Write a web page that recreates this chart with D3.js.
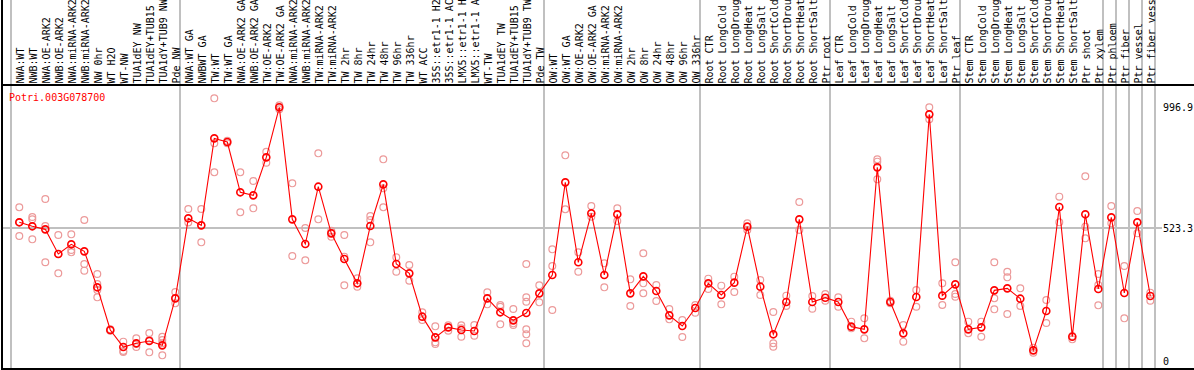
<!DOCTYPE html>
<html>
<head>
<meta charset="utf-8">
<script src="https://cdn.jsdelivr.net/npm/d3@7"></script>
<style>
  html, body { margin: 0; padding: 0; background: #fff; }
  svg { display: block; font-family: "DejaVu Sans Mono", monospace; }
</style>
</head>
<body>
<div id="chart"></div>
<script>
const geneId = 'Potri.003G078700';

// labels as far as they are shown in the header
const categories = [
  'NWA:WT', 'NWB:WT', 'NWA:OE-ARK2', 'NWB:OE-ARK2', 'NWA:miRNA-ARK2', 'NWB:miRNA-ARK2',
  'NW 0hr', 'WT H2O', 'WT-NW', 'TUA1dEY NW', 'TUA1dEY+TUB15', 'TUA1dY+TUB9 NW', 'Pde NW',
  'NWA:WT GA', 'NWBWT GA', 'TW:WT', 'TW:WT GA', 'NWA:OE-ARK2 GA', 'NWB:OE-ARK2 GA',
  'TW:OE-ARK2', 'TW:OE-ARK2 GA', 'NWA:miRNA-ARK2', 'NWB:miRNA-ARK2', 'TW:miRNA-ARK2',
  'TW:miRNA-ARK2', 'TW 2hr', 'TW 8hr', 'TW 24hr', 'TW 48hr', 'TW 96hr', 'TW 336hr', 'WT ACC',
  '35S::etr1-1 H2', '35S::etr1-1 AC', 'LMX5::etr1-1 H', 'LMX5::etr1-1 A', 'WT-TW',
  'TUA1dEY TW', 'TUA1dEY+TUB15', 'TUA1dY+TUB9 TW', 'Pde TW',
  'OW:WT', 'OW:WT GA', 'OW:OE-ARK2', 'OW:OE-ARK2 GA', 'OW:miRNA-ARK2', 'OW:miRNA-ARK2',
  'OW 2hr', 'OW 8hr', 'OW 24hr', 'OW 48hr', 'OW 96hr', 'OW 336hr',
  'Root CTR', 'Root LongCold', 'Root LongDroug', 'Root LongHeat', 'Root LongSalt',
  'Root ShortCold', 'Root ShortDrou', 'Root ShortHeat', 'Root ShortSalt', 'Ptr root',
  'Leaf CTR', 'Leaf LongCold', 'Leaf LongDroug', 'Leaf LongHeat', 'Leaf LongSalt',
  'Leaf ShortCold', 'Leaf ShortDrou', 'Leaf ShortHeat', 'Leaf ShortSalt', 'Ptr leaf',
  'Stem CTR', 'Stem LongCold', 'Stem LongDroug', 'Stem LongHeat', 'Stem LongSalt',
  'Stem ShortCold', 'Stem ShortDrou', 'Stem ShortHeat', 'Stem ShortSalt', 'Ptr shoot', 'Ptr xylem',
  'Ptr phloem', 'Ptr fiber', 'Ptr vessel', 'Ptr fiber vess'
];

// category index where each grey separator sits (left edge of that column)
const groupBreaks = [0, 13, 41, 53, 63, 73, 84, 85, 86, 87, 88];

const means = [
  545.6, 529.9, 518.1, 421.3, 459.3, 431.8, 290.6, 123.2, 56.5, 70.9, 80.0, 63.0, 247.4,
  561.3, 533.8, 875.1, 860.7, 663.3, 651.5, 800.6, 996.9, 557.3, 460.6, 685.5, 502.4,
  401.7, 306.3, 531.2, 694.6, 382.1, 345.5, 175.5, 94.4, 133.6, 123.2, 119.3, 247.4,
  192.5, 161.1, 189.9, 267.0,
  339.0, 702.5, 388.7, 580.9, 339.0, 577.0, 267.0, 333.7, 276.2, 180.7, 138.9, 209.5,
  306.3, 260.5, 308.9, 528.6, 293.2, 106.2, 233.0, 557.3, 233.0, 250.0,
  233.0, 136.3, 125.8, 761.3, 233.0, 110.1, 252.6, 969.3, 257.9, 302.3,
  125.8, 133.6, 278.8, 286.6, 246.1, 43.4, 197.7, 605.7, 97.0, 577.0, 284.0,
  565.2, 268.3, 545.6, 256.6
];

const replicates = [
  [604.4, 545.6, 492.0], [566.5, 557.3, 478.9], [637.1, 531.2, 388.7], [495.9, 421.3, 345.5],
  [498.5, 437.0, 427.9], [554.7, 382.1, 356.0], [342.9, 303.6, 280.1, 251.3], [125.8, 120.6],
  [77.4, 40.8, 36.9], [90.5, 68.3, 56.5], [111.4, 84.0, 35.6], [97.0, 84.0, 70.9, 23.8],
  [272.3, 247.4, 227.8],
  [597.9, 545.0], [597.9, 533.8, 467.1], [1032.0, 855.5, 741.7], [866.0, 855.5],
  [741.7, 584.8], [707.7, 600.5], [822.8, 779.7], [1004.6, 996.7, 988.8], [698.6, 413.5],
  [523.3, 396.5], [816.3, 557.3], [512.9, 505.0, 489.3], [495.9, 410.9, 298.4],
  [325.9, 293.2], [570.4, 554.7, 467.1], [792.7, 679.0, 604.4], [408.3, 352.0],
  [378.2, 316.7], [192.5, 162.4], [137.6, 74.8, 68.3], [141.5, 120.6], [141.5, 129.7, 97.0],
  [142.8, 101.0], [271.0, 223.9], [221.3, 214.7, 145.4], [205.6, 149.3, 142.8],
  [382.1, 251.3, 234.3, 125.8, 106.2, 70.9], [298.4, 231.7],
  [439.6, 374.3, 201.6], [808.4, 596.6], [427.9, 352.0], [609.6, 567.8], [384.7, 290.6],
  [600.5, 550.8], [322.0, 217.3], [424.0, 306.3, 267.0], [299.7, 237.0], [205.6, 165.0],
  [162.4, 95.7], [221.3, 191.2],
  [324.6, 284.0], [297.1, 223.9], [332.4, 272.3], [541.7, 515.5], [319.3, 260.5],
  [193.8, 70.9, 57.8], [257.9, 217.3], [625.3, 515.5], [256.6, 206.9], [264.4, 238.3],
  [251.3, 214.7], [155.9, 129.7], [169.0, 90.5], [792.7, 783.6, 714.3], [238.3, 227.8],
  [142.8, 77.4], [280.1, 214.7], [996.7, 949.7], [306.3, 221.3], [388.7, 264.4, 254.0],
  [155.9, 110.1], [155.9, 97.0], [388.7, 247.4, 204.3], [352.0, 329.8, 186.0], [286.6, 217.3],
  [53.9, 34.3], [240.9, 150.6], [646.3, 545.6], [99.6, 86.6], [726.0, 528.6, 482.8],
  [342.9, 299.7, 219.9],
  [609.6, 541.7], [374.3, 168.9], [590.0, 502.4], [269.7, 238.3]
];

const yTickValues = [996.9, 523.3, 0];
const gridValue = 523.3;

const width = 1194;
const height = 370;
const plot = { left: 11, right: 1155, bottom: 369, header: 85 };

const svg = d3.select('#chart')
  .append('svg')
  .attr('width', width)
  .attr('height', height);

const x = d3.scaleBand()
  .domain(d3.range(categories.length))
  .range([plot.left, plot.right])
  .padding(0);

const px = i => x(i) + 8.3;

const y = d3.scaleLinear()
  .domain([0, 996.9])
  .range([361.4, 107.3]);

// group separators
svg.append('g')
  .selectAll('line')
  .data(groupBreaks)
  .enter()
  .append('line')
  .attr('x1', d => d < categories.length ? x(d) : plot.right)
  .attr('x2', d => d < categories.length ? x(d) : plot.right)
  .attr('y1', 0)
  .attr('y2', plot.bottom)
  .attr('stroke', '#c0c0c0')
  .attr('stroke-width', 1.2)
  .attr('shape-rendering', 'crispEdges');

// horizontal reference line
svg.append('line')
  .attr('x1', 2)
  .attr('x2', 1162)
  .attr('y1', y(gridValue))
  .attr('y2', y(gridValue))
  .attr('stroke', '#c0c0c0')
  .attr('stroke-width', 1.2)
  .attr('shape-rendering', 'crispEdges');

// frame
svg.append('line')
  .attr('x1', 2).attr('x2', 2)
  .attr('y1', 0).attr('y2', height)
  .attr('stroke', '#000').attr('stroke-width', 1.5)
  .attr('shape-rendering', 'crispEdges');

svg.append('line')
  .attr('x1', 2).attr('x2', width)
  .attr('y1', plot.header).attr('y2', plot.header)
  .attr('stroke', '#000').attr('stroke-width', 1.5)
  .attr('shape-rendering', 'crispEdges');

svg.append('line')
  .attr('x1', 2).attr('x2', width)
  .attr('y1', plot.bottom).attr('y2', plot.bottom)
  .attr('stroke', '#000').attr('stroke-width', 1.5)
  .attr('shape-rendering', 'crispEdges');

// rotated category labels
svg.append('g')
  .selectAll('text')
  .data(categories)
  .enter()
  .append('text')
  .attr('transform', (d, i) => `translate(${px(i) + 0.8},83.5) rotate(-90)`)
  .attr('text-anchor', 'start')
  .attr('dominant-baseline', 'central')
  .style('font-size', '10px')
  .attr('fill', '#000')
  .text(d => d);

// gene id
svg.append('text')
  .attr('x', 9)
  .attr('y', 101)
  .style('font-size', '10px')
  .attr('fill', '#ff0000')
  .text(geneId);

// y labels
svg.append('g')
  .selectAll('text')
  .data(yTickValues)
  .enter()
  .append('text')
  .attr('x', 1163)
  .attr('y', d => y(d) + 3.5)
  .style('font-size', '10px')
  .attr('fill', '#000')
  .text(d => d);

// replicates
const repData = replicates.flatMap((reps, i) => reps.map(v => ({ i, v })));
svg.append('g')
  .selectAll('circle')
  .data(repData)
  .enter()
  .append('circle')
  .attr('cx', d => px(d.i))
  .attr('cy', d => y(d.v))
  .attr('r', 3.4)
  .attr('fill', 'none')
  .attr('stroke', '#ec9a9a')
  .attr('stroke-width', 1.2);

// mean line
const line = d3.line()
  .x((d, i) => px(i))
  .y(d => y(d));

svg.append('path')
  .datum(means)
  .attr('fill', 'none')
  .attr('stroke', '#ff0000')
  .attr('stroke-width', 1.1)
  .attr('d', line);

svg.append('g')
  .selectAll('circle')
  .data(means)
  .enter()
  .append('circle')
  .attr('cx', (d, i) => px(i))
  .attr('cy', d => y(d))
  .attr('r', 3.5)
  .attr('fill', 'none')
  .attr('stroke', '#ff0000')
  .attr('stroke-width', 1.6);
</script>
</body>
</html>
